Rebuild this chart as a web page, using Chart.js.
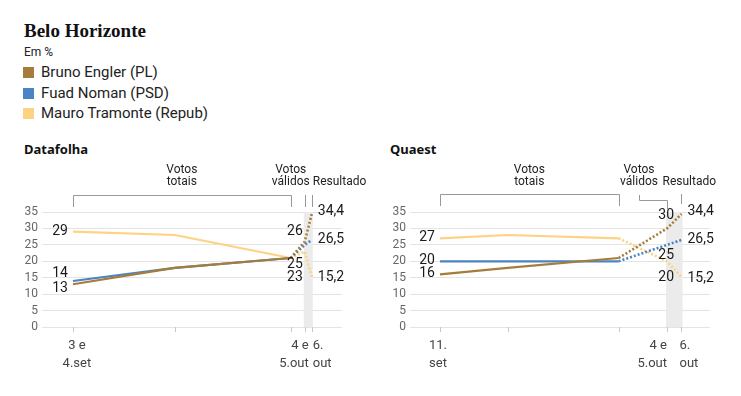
<!DOCTYPE html>
<html>
<head>
<meta charset="utf-8">
<script src="https://cdn.jsdelivr.net/npm/chart.js@4/dist/chart.umd.min.js"></script>
<style>
  body { margin: 0; background: #fff; font-family: Roboto, sans-serif; color: #111; }
  #page { position: relative; width: 741px; height: 396px; overflow: hidden; }
  h1 { position: absolute; left: 24px; top: 20px; margin: 0; font: bold 19px "Liberation Serif", serif; color: #111; }
  .unit { position: absolute; left: 24px; top: 45px; font-size: 12px; color: #222; }
  .legend { position: absolute; left: 23px; top: 62px; font-size: 15px; color: #222; }
  .legend div { height: 20.5px; line-height: 20px; }
  .legend span { display: inline-block; width: 11px; height: 11px; margin-right: 7px; vertical-align: -1px; }
  .sub { position: absolute; top: 140px; font: bold 13px "Noto Sans", sans-serif; color: #111; }
  canvas { position: absolute; top: 160px; }
</style>
</head>
<body>
<div id="page">
  <h1>Belo Horizonte</h1>
  <div class="unit">Em %</div>
  <div class="legend" id="legend"></div>
  <div class="sub" style="left:24px">Datafolha</div>
  <div class="sub" style="left:390px">Quaest</div>
  <canvas id="datafolha" width="380" height="220" style="left:0"></canvas>
  <canvas id="quaest" width="336" height="220" style="left:380px"></canvas>
</div>
<script>
const candidates = ["Bruno Engler (PL)", "Fuad Noman (PSD)", "Mauro Tramonte (Repub)"];

// x = days from 31 Aug (Datafolha válidos/result spots are spread a bit for reading)
const datafolhaX = [3.5, 18, 34.5, 36.5, 37.5];
const datafolhaEngler = [13, 18, 21, 26, 34.4];
const datafolhaNoman = [14, 18, 21, 25, 26.5];
const datafolhaTramonte = [29, 28, 21, 23, 15.2];
const datafolhaXLabels = [["3 e", "4.set"], ["4 e", "5.out"], ["6.", "out"]];

const quaestX = [11, 18, 29.5, 34.5, 36];
const quaestEngler = [16, 18, 21, 30, 34.4];
const quaestNoman = [20, 20, 20, 25, 26.5];
const quaestTramonte = [27, 28, 27, 20, 15.2];
const quaestXLabels = [["11.", "set"], ["4 e", "5.out"], ["6.", "out"]];

const yTicks = [0, 5, 10, 15, 20, 25, 30, 35];

const colors = ["#a67c3b", "#4a84c5", "#fdd283"];
const FONT = "Roboto, sans-serif";

const legendEl = document.getElementById("legend");
candidates.forEach((name, i) => {
  const row = document.createElement("div");
  row.innerHTML = `<span style="background:${colors[i]}"></span>${name}`;
  legendEl.appendChild(row);
});

function fmt(v) {
  return String(v).replace(".", ",");
}

function makeChart(id, xs, series, xLabels, layout) {
  const [VAL, RES] = [3, 4];

  const overlay = {
    id: "overlay",
    beforeDatasetsDraw(chart) {
      const { ctx, chartArea } = chart;
      const x = chart.scales.x;
      ctx.save();
      ctx.fillStyle = "#ebebeb";
      const a = x.getPixelForValue(xs[VAL]);
      const b = x.getPixelForValue(xs[RES]);
      ctx.fillRect(a - 1, chartArea.top, b - a + 2, chartArea.bottom - chartArea.top);
      ctx.restore();
    },
    afterDatasetsDraw(chart) {
      const { ctx, chartArea } = chart;
      const x = chart.scales.x;
      const y = chart.scales.y;
      const px = xs.map(v => x.getPixelForValue(v));
      ctx.save();

      // tick marks under the axis
      ctx.strokeStyle = "#c8c8c8";
      ctx.lineWidth = 1;
      px.forEach(p => {
        const xx = Math.round(p) + 0.5;
        ctx.beginPath();
        ctx.moveTo(xx, chartArea.bottom);
        ctx.lineTo(xx, chartArea.bottom + 5);
        ctx.stroke();
      });

      // x labels
      ctx.fillStyle = "#444";
      ctx.font = "13px " + FONT;
      ctx.textBaseline = "middle";
      const ly = [186, 204];
      ctx.textAlign = "center";
      xLabels[0].forEach((t, k) => ctx.fillText(t, px[0] + layout.firstDx, ly[k]));
      ctx.textAlign = "right";
      xLabels[1].forEach((t, k) => ctx.fillText(t, px[VAL] + layout.valDx, ly[k]));
      ctx.textAlign = "left";
      xLabels[2].forEach((t, k) => ctx.fillText(t, px[RES] + layout.resDx, ly[k]));

      // value labels
      ctx.fillStyle = "#1a1a1a";
      ctx.font = "14px " + FONT;
      series.forEach((s, i) => {
        ctx.textAlign = "right";
        ctx.fillText(fmt(s[0]), px[0] - 5, y.getPixelForValue(s[0]) + layout.firstDy[i]);
        ctx.fillText(fmt(s[VAL]), px[VAL] + layout.valLabelDx, y.getPixelForValue(s[VAL]) + layout.valDy[i]);
        ctx.textAlign = "left";
        ctx.fillText(fmt(s[RES]), px[RES] + 6, y.getPixelForValue(s[RES]) + layout.resDy[i]);
      });

      // brackets
      ctx.strokeStyle = "#999";
      const top = layout.bracketTop;
      const r = v => Math.round(v) + 0.5;
      ctx.beginPath();
      ctx.moveTo(r(px[0]), top + 12);
      ctx.lineTo(r(px[0]), r(top));
      ctx.lineTo(r(px[2]), r(top));
      ctx.lineTo(r(px[2]), top + 12);
      ctx.stroke();
      ctx.beginPath();
      if (layout.valHook) {
        const h = px[VAL] + layout.valHook;
        ctx.moveTo(r(h), top + 1);
        ctx.lineTo(r(h), r(top + 6));
        ctx.lineTo(r(px[VAL]), r(top + 6));
        ctx.lineTo(r(px[VAL]), top + 15);
      } else {
        ctx.moveTo(r(px[VAL]), top);
        ctx.lineTo(r(px[VAL]), top + 12);
      }
      ctx.moveTo(r(px[RES]), top);
      ctx.lineTo(r(px[RES]), top + layout.resTick);
      ctx.stroke();

      // bracket captions
      ctx.fillStyle = "#222";
      ctx.font = "12px " + FONT;
      ctx.textAlign = "center";
      const mid = (px[0] + px[2]) / 2;
      ctx.fillText("Votos", mid, 10);
      ctx.fillText("totais", mid, 22);
      ctx.fillText("Votos", px[VAL] + layout.valText, 10);
      ctx.fillText("válidos", px[VAL] + layout.valText, 22);
      ctx.textAlign = "left";
      ctx.fillText("Resultado", px[RES] + layout.resText, 22);
      ctx.restore();
    }
  };

  return new Chart(document.getElementById(id), {
    type: "line",
    data: {
      datasets: series.map((s, i) => ({
        label: candidates[i],
        data: s.map((v, k) => ({ x: xs[k], y: v })),
        borderColor: colors[i],
        borderWidth: 2.2,
        pointRadius: 0,
        tension: 0,
        segment: {
          borderDash: c => (c.p0DataIndex >= 2 ? [2, 2] : undefined),
          borderWidth: c => (c.p0DataIndex >= 2 ? 2.6 : 2.2)
        }
      }))
    },
    options: {
      responsive: false,
      animation: false,
      devicePixelRatio: 1,
      layout: { padding: { left: 0, top: 52, right: layout.right, bottom: 53 } },
      plugins: { legend: { display: false }, tooltip: { enabled: false } },
      scales: {
        x: {
          type: "linear",
          min: layout.xMin,
          max: layout.xMax,
          grid: { display: false, drawTicks: false },
          border: { display: false },
          ticks: { display: false },
          afterFit: s => { s.height = 0; }
        },
        y: {
          min: 0,
          max: 35,
          afterBuildTicks: s => { s.ticks = yTicks.map(v => ({ value: v })); },
          afterFit: s => { s.width = layout.left; },
          grid: { color: "#e4e4e4", drawTicks: false },
          border: { display: false },
          ticks: { color: "#666", padding: 4, autoSkip: false, font: { family: FONT, size: 12 } }
        }
      }
    },
    plugins: [overlay]
  });
}

makeChart("datafolha", datafolhaX, [datafolhaEngler, datafolhaNoman, datafolhaTramonte], datafolhaXLabels, {
  left: 42, right: 38, xMin: -0.9, xMax: 41.8,
  firstDx: 4, valDx: 4, resDx: 1,
  firstDy: [4, -8, 0], valDy: [-10, 20, 26], resDy: [-2, 0, 0], valLabelDx: -2,
  bracketTop: 35, valHook: 0, resTick: 12, valText: -14, resText: 1
});

makeChart("quaest", quaestX, [quaestEngler, quaestNoman, quaestTramonte], quaestXLabels, {
  left: 30, right: 6, xMin: 7.9, xMax: 38.95,
  firstDx: -2, valDx: 0, resDx: -2,
  firstDy: [-1, -1, -1], valDy: [-13, 11, 16], resDy: [-2, 0, 1], valLabelDx: 7,
  bracketTop: 34, valHook: -28, resTick: 10, valText: -28, resText: -19
});
</script>
</body>
</html>
